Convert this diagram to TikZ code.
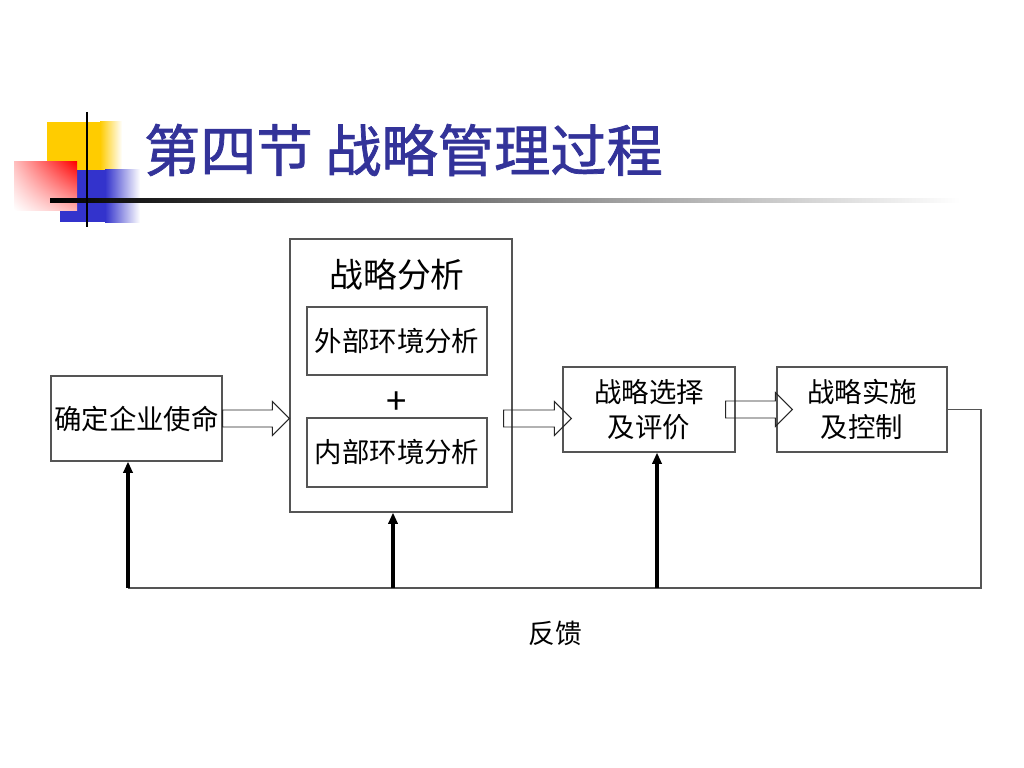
\documentclass[tikz,border=0pt]{standalone}
\usepackage{fontspec}
\setmainfont{Noto Sans CJK SC}
\newfontfamily\titlefont[FakeBold=1.3]{Noto Sans CJK SC}
\usetikzlibrary{arrows.meta,calc,shadings}
\definecolor{titleblue}{RGB}{51,51,153}
\definecolor{logoyellow}{RGB}{255,204,0}
\definecolor{logoblue}{RGB}{51,51,204}
\definecolor{boxgray}{RGB}{85,85,85}

\begin{document}
\begin{tikzpicture}[x=0.025cm, y=-0.025cm,
    box/.style = {draw=boxgray, line width=0.8pt, inner sep=0pt, align=center,
                  font=\fontsize{19.5}{25}\selectfont},
    fatarrow/.style = {draw=black!85, line width=0.7pt, to path={
        ($(\tikztostart)+(0,-8.5)$) -- ($(\tikztotarget)+(-17,-8.5)$)
        -- ($(\tikztotarget)+(-17,-17)$) -- (\tikztotarget)
        -- ($(\tikztotarget)+(-17,17)$) -- ($(\tikztotarget)+(-17,8.5)$)
        -- ($(\tikztostart)+(0,8.5)$) -- cycle}},
    feedback/.style = {line width=2.3pt, -{Triangle[length=8pt,width=6.5pt]}}]
    \useasboundingbox[fill=white] (0,0) rectangle (1024,768);

    % logo
    \fill[logoyellow] (47,122) rectangle (100,178);
    \shade[left color=logoyellow, right color=white] (100,122) rectangle (122,178);
    \fill[logoblue] (60,170) rectangle (105,222);
    \shade[left color=logoblue, right color=white] (105,170) rectangle (140,222);
    \shade[upper right=red, upper left=red!25, lower right=red!30, lower left=white]
        (14,162) rectangle (77,210);
    \shade[left color=black, right color=white] (50,198) rectangle (960,202);
    \draw[line width=2.1pt] (87,112) -- (87,227);

    \node[anchor=west, text=titleblue, font=\fontsize{40}{44}\titlefont] (title) at (139,150) {第四节 战略管理过程};

    \node[box, minimum width=4.275cm, minimum height=2.125cm] (mission) at (136.5,418.5) {确定企业使命};
    \node[box, minimum width=5.55cm, minimum height=6.825cm] (analysis) at (401,375.5) {};
    \node[font=\fontsize{24}{28}\selectfont] (analysisTitle) at (397,275) {战略分析};
    \node[box, minimum width=4.5cm, minimum height=1.7cm] (external) at (397,341) {外部环境分析};
    \node[font=\fontsize{26}{28}\selectfont] (plus) at (397,403) {+};
    \node[box, minimum width=4.5cm, minimum height=1.725cm] (internal) at (397,452.5) {内部环境分析};
    \node[box, minimum width=4.3cm, minimum height=2.125cm] (select) at (649,409.5) {战略选择\\及评价};
    \node[box, minimum width=4.25cm, minimum height=2.125cm] (implement) at (862,409.5) {战略实施\\及控制};

    \draw[fatarrow] (mission.east) to (analysis.west |- mission.east);
    \draw[fatarrow] ($(analysis.east |- mission.east)+(-9,0)$) to ($(select.west |- mission.east)+(9,0)$);
    \draw[fatarrow] ($(select.east)+(-10,0)$) to ($(implement.west)+(16,0)$);

    \coordinate (fbRight) at (981,588);
    \coordinate (fbLeft) at (128,588);
    \coordinate (fbMid) at (393,588);
    \coordinate (fbSel) at (657,588);
    \draw[boxgray, line width=0.8pt] (implement.east) -| (fbRight) -- (fbLeft);
    \draw[feedback] (fbLeft) -- (fbLeft |- mission.south);
    \draw[feedback] (fbMid) -- (fbMid |- analysis.south);
    \draw[feedback] (fbSel) -- (fbSel |- select.south);

    \node[font=\fontsize{19}{22}\selectfont] (feedbackLabel) at (555,633) {反馈};
\end{tikzpicture}
\end{document}
